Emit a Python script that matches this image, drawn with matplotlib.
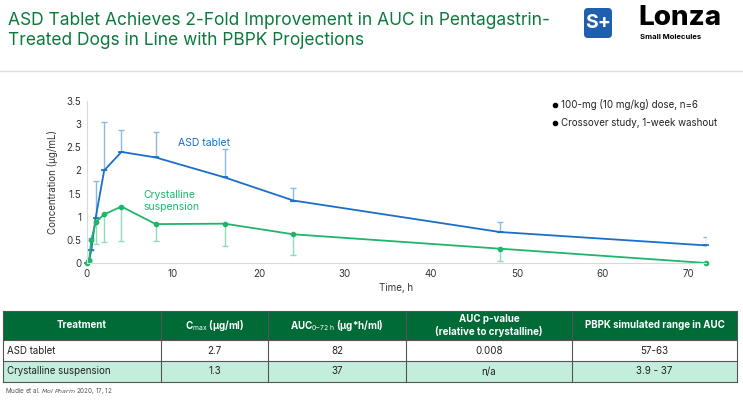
import matplotlib
matplotlib.use("Agg")
import matplotlib.pyplot as plt
from matplotlib.patches import Rectangle, FancyBboxPatch

plt.rcParams["font.family"] = ["Inter", "DejaVu Sans"]
plt.rcParams["mathtext.fontset"] = "custom"
plt.rcParams["mathtext.rm"] = "Inter"
plt.rcParams["mathtext.bf"] = "Inter:bold"

# PK profile data
time_h = [0, 0.25, 0.5, 1, 2, 4, 8, 16, 24, 48, 72]
asd_conc = [0.0, 0.05, 0.28, 0.97, 2.0, 2.4, 2.28, 1.85, 1.35, 0.67, 0.38]
asd_err_up = [0.0, 0.02, 0.26, 0.81, 1.05, 0.48, 0.54, 0.62, 0.28, 0.22, 0.18]
cry_conc = [0.0, 0.06, 0.5, 0.88, 1.05, 1.22, 0.84, 0.85, 0.62, 0.31, 0.0]
cry_err_down = [0.0, 0.04, 0.22, 0.46, 0.6, 0.75, 0.37, 0.48, 0.45, 0.26, 0.0]

bullets = ["100-mg (10 mg/kg) dose, n=6", "Crossover study, 1-week washout"]

# summary table
table_header = ["Treatment", r"C$_{\mathrm{max}}$ (µg/ml)",
                r"AUC$_{\mathrm{0–72\ h}}$ (µg*h/ml)",
                "AUC p-value\n(relative to crystalline)",
                "PBPK simulated range in AUC"]
table_rows = [
    ["ASD tablet", "2.7", "82", "0.008", "57-63"],
    ["Crystalline suspension", "1.3", "37", "n/a", "3.9 - 37"],
]

TITLE_GREEN = "#0b7a3c"
ASD_BLUE = "#1b6fc6"
ASD_BLUE_LIGHT = "#86bbe8"
CRY_GREEN = "#1fb66b"
CRY_GREEN_LIGHT = "#8fdcb6"
HEAD_GREEN = "#006b37"
ROW_GREEN = "#c4eedc"

W, H = 743, 400
fig = plt.figure(figsize=(W / 100, H / 100), dpi=100)

# overlay axes in pixel coordinates for title, logo and table
ov = fig.add_axes([0, 0, 1, 1])
ov.set_xlim(0, W)
ov.set_ylim(H, 0)
ov.axis("off")

ov.text(8, 12, "ASD Tablet Achieves 2-Fold Improvement in AUC in Pentagastrin-\n"
        "Treated Dogs in Line with PBPK Projections",
        color=TITLE_GREEN, fontsize=12.5, va="top", ha="left", linespacing=1.25)
ov.plot([0, W], [71, 71], color="#dddddd", lw=1)

# logo
ov.add_patch(FancyBboxPatch((584, 8), 28, 30, boxstyle="round,pad=0,rounding_size=4",
                            fc="#1f5fae", ec="none"))
ov.text(598, 23.5, "S+", color="white", fontsize=14, fontweight="bold",
        ha="center", va="center")
ov.text(638, 18, "Lonza", color="black", fontsize=20, fontweight="heavy",
        ha="left", va="center")
ov.text(640, 37, "Small Molecules", color="black", fontsize=5.5, fontweight="bold",
        ha="left", va="center")

# bullets
for i, b in enumerate(bullets):
    y = 105 + i * 18
    ov.plot(555, y, "o", color="black", ms=3)
    ov.text(561, y, b, fontsize=7, va="center", ha="left", color="#222222")

# table
col_edges = [3, 161, 268, 406, 572, 737]
row_edges = [311, 340, 361, 382]
row_fill = [HEAD_GREEN, "white", ROW_GREEN]
for r in range(3):
    ov.add_patch(Rectangle((col_edges[0], row_edges[r]), col_edges[-1] - col_edges[0],
                           row_edges[r + 1] - row_edges[r], fc=row_fill[r], ec="none"))
for x in col_edges:
    ov.plot([x, x], [row_edges[0], row_edges[-1]], color="#555555", lw=0.8)
for y in row_edges:
    ov.plot([col_edges[0], col_edges[-1]], [y, y], color="#555555", lw=0.8)

for c, txt in enumerate(table_header):
    xc = (col_edges[c] + col_edges[c + 1]) / 2
    ov.text(xc, (row_edges[0] + row_edges[1]) / 2, txt, color="white", fontsize=7,
            fontweight="bold", ha="center", va="center", linespacing=1.2)
for r, row in enumerate(table_rows):
    yc = (row_edges[r + 1] + row_edges[r + 2]) / 2
    for c, txt in enumerate(row):
        if c == 0:
            ov.text(col_edges[0] + 4, yc, txt, fontsize=7, ha="left", va="center",
                    color="#222222")
        else:
            xc = (col_edges[c] + col_edges[c + 1]) / 2
            ov.text(xc, yc, txt, fontsize=7, ha="center", va="center", color="#222222")

ov.text(5, 391, "Mudie et al. $\\it{Mol\\ Pharm}$ 2020, 17, 12", fontsize=4.5,
        color="#555555", ha="left", va="center")

# main chart
ax = fig.add_axes([87 / W, 1 - 263 / H, (706 - 87) / W, 162 / H])
ax.errorbar(time_h, asd_conc, yerr=[[0] * len(asd_err_up), asd_err_up],
            fmt="none", ecolor=ASD_BLUE_LIGHT, elinewidth=1, capsize=2, capthick=1)
ax.errorbar(time_h, cry_conc, yerr=[cry_err_down, [0] * len(cry_err_down)],
            fmt="none", ecolor=CRY_GREEN_LIGHT, elinewidth=1, capsize=2, capthick=1)
ax.plot(time_h, asd_conc, color=ASD_BLUE, lw=1.3, marker="_", ms=4, mew=1.2,
        clip_on=False)
ax.plot(time_h, cry_conc, color=CRY_GREEN, lw=1.3, marker="o", ms=3, clip_on=False)

ax.text(13.6, 2.6, "ASD tablet", color=ASD_BLUE, fontsize=7.5, ha="center", va="center")
ax.text(6.6, 1.34, "Crystalline\nsuspension", color=CRY_GREEN, fontsize=7.5,
        ha="left", va="center", linespacing=1.2)

ax.set_xlim(0, 72)
ax.set_ylim(0, 3.5)
ax.set_xticks(range(0, 71, 10))
ax.set_yticks([0, 0.5, 1, 1.5, 2, 2.5, 3, 3.5])
ax.set_yticklabels(["0", "0.5", "1", "1.5", "2", "2.5", "3", "3.5"])
ax.tick_params(length=0, labelsize=7, colors="#333333", pad=4)
for s in ["top", "right"]:
    ax.spines[s].set_visible(False)
ax.spines["left"].set_color("#d9d9d9")
ax.spines["bottom"].set_color("#d9d9d9")
ax.set_ylabel("Concentration (µg/mL)", fontsize=7, color="#333333", labelpad=6)
ax.set_xlabel("Time, h", fontsize=7, color="#333333", labelpad=3)
ax.patch.set_alpha(0)

fig.savefig("out.png", dpi=100)
